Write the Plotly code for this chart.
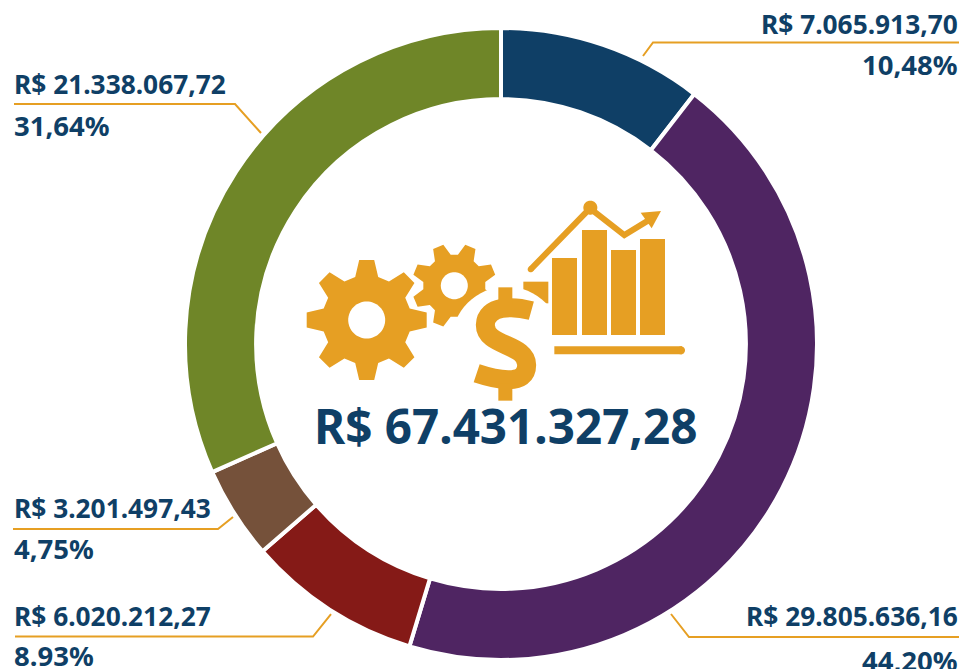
import math
import plotly.graph_objects as go

W, H = 964, 669
values = [7065913.70, 29805636.16, 6020212.27, 3201497.43, 21338067.72]
value_labels = ["R$ 7.065.913,70", "R$ 29.805.636,16", "R$ 6.020.212,27", "R$ 3.201.497,43", "R$ 21.338.067,72"]
pct_labels = ["10,48%", "44,20%", "8.93%", "4,75%", "31,64%"]
colors = ["#0f3f66", "#4f2562", "#851a17", "#75513a", "#6f8628"]
total_label = "R$ 67.431.327,28"
NAVY = "#0f3f66"
GOLD = "#e69f23"
FONT = "Noto Sans"

def px(x): return x / W
def py(y): return 1 - y / H

fig = go.Figure(go.Pie(
    values=values, sort=False, direction="clockwise", rotation=0, hole=0.775,
    textinfo="none", hoverinfo="skip", showlegend=False,
    marker=dict(colors=colors, line=dict(color="white", width=4)),
    domain=dict(x=[px(185), px(817)], y=[py(660), py(28)]),
))

shapes = []

def gear(cx, cy, ro, ri, n, offset_deg, tip_half, base_half):
    pts = []
    for k in range(n):
        a = math.radians(offset_deg + 360 * k / n)
        ux, uy = math.sin(a), -math.cos(a)
        vx, vy = math.cos(a), math.sin(a)
        for r, s in ((ri, -base_half), (ro, -tip_half), (ro, tip_half), (ri, base_half)):
            pts.append((cx + ux * r + vx * s, cy + uy * r + vy * s))
    return pts

def Z(x, y):
    return (290 + x / 3, 190 + y / 3)

def line_shape(x0, y0, x1, y1, color, width):
    shapes.append(dict(type="line", xref="paper", yref="paper", x0=px(x0), x1=px(x1),
                       y0=py(y0), y1=py(y1), line=dict(color=color, width=width), layer="above"))

def shape_px(d, fill=None, line=None, width=0):
    shapes.append(dict(type="path", path=d, xref="paper", yref="paper", layer="above",
                       fillcolor=fill or "rgba(0,0,0,0)",
                       line=dict(color=line or "rgba(0,0,0,0)", width=width)))

def P(x, y): return f"{px(x):.5f},{py(y):.5f}"
def poly_px(pts, close=True):
    return "M " + " L ".join(P(x, y) for x, y in pts) + (" Z" if close else "")
def circle_px(cx, cy, r, n=64):
    return poly_px([(cx + r * math.cos(2 * math.pi * i / n), cy + r * math.sin(2 * math.pi * i / n)) for i in range(n)])
def rz(x0, y0, x1, y1):
    a, b = Z(x0, y0), Z(x1, y1)
    return poly_px([a, (b[0], a[1]), b, (a[0], b[1])])

# Gears
shape_px(poly_px(gear(366.7, 320, 60, 43, 8, 0, 7.5, 11.5)), fill=GOLD)
shape_px(circle_px(366.7, 320, 18.5), fill="white")
shape_px(poly_px(gear(454.3, 285.7, 42, 30, 8, 22.5, 5.5, 8.5)), fill=GOLD)
shape_px(circle_px(454.3, 285.7, 13.5), fill="white")

# Corner piece and white halo behind the dollar sign
shape_px(rz(700, 275, 775, 340), fill=GOLD)
shape_px(circle_px(*Z(650, 455), 55), fill="white")

# Bars
for x0, y0, x1 in [(786, 204, 861), (876, 120, 951), (963, 180, 1038), (1050, 147, 1125)]:
    shape_px(rz(x0, y0, x1, 435), fill=GOLD)

# Base line
line_shape(*Z(793, 481), *Z(1176, 481), GOLD, 8)
shape_px(circle_px(*Z(1173, 481), 4), fill=GOLD)

# Trend line and arrow
shape_px(poly_px([Z(722, 238), Z(900, 55), Z(1003, 135), Z(1085, 85)], close=False), line=GOLD, width=6)
shape_px(circle_px(*Z(722, 238), 3), fill=GOLD)
shape_px(circle_px(*Z(901, 53), 7), fill=GOLD)
shape_px(poly_px([Z(1052, 68), Z(1113, 63), Z(1085, 115)]), fill=GOLD)

# Dollar sign
s = [Z(x, y) for x, y in [(724, 362), (670, 347), (588, 345), (586, 405), (586, 470), (710, 460), (710, 525), (710, 590), (620, 570), (560, 550)]]
dollar = (f"M {P(*s[0])} C {P(*s[1])} {P(*s[2])} {P(*s[3])} "
          f"C {P(*s[4])} {P(*s[5])} {P(*s[6])} C {P(*s[7])} {P(*s[8])} {P(*s[9])}")
shape_px(dollar, line=GOLD, width=19)
shape_px(rz(625, 292, 667, 345), fill=GOLD)
shape_px(rz(625, 580, 667, 632), fill=GOLD)

# Leader lines
leaders = [
    [(643, 56), (653, 42.5), (959, 42.5)],
    [(671, 614), (689, 637), (959, 637)],
    [(331, 614), (313, 636.5), (15, 636.5)],
    [(233, 517), (218, 529), (13, 529)],
    [(261, 133), (235, 104), (14, 104)],
]
for pts in leaders:
    shape_px(poly_px(pts, close=False), line=GOLD, width=2)

# Text
text_pos = [
    (960, "right", 24, 64),
    (960, "right", 616, 660),
    (12, "left", 616, 655),
    (12, "left", 508, 548),
    (12, "left", 84, 126),
]
annotations = []
def note(text, x, y, anchor, size):
    annotations.append(dict(text=f"<b>{text}</b>", x=px(x), y=py(y), xref="paper", yref="paper",
                            xanchor=anchor, yanchor="middle", showarrow=False,
                            font=dict(family=FONT, size=size, color=NAVY)))
for val, pct, (x, anchor, y1, y2) in zip(value_labels, pct_labels, text_pos):
    note(val, x, y1, anchor, 26.3)
    note(pct, x, y2, anchor, 27.5)
note(total_label, 505, 426, "center", 47.6)

fig.update_layout(
    width=W, height=H, margin=dict(l=0, r=0, t=0, b=0),
    paper_bgcolor="white", plot_bgcolor="white",
    shapes=shapes, annotations=annotations,
)
fig.write_html("out.html", config=dict(displayModeBar=False),
               post_script="document.body.style.margin='0';document.body.style.overflow='hidden';")
